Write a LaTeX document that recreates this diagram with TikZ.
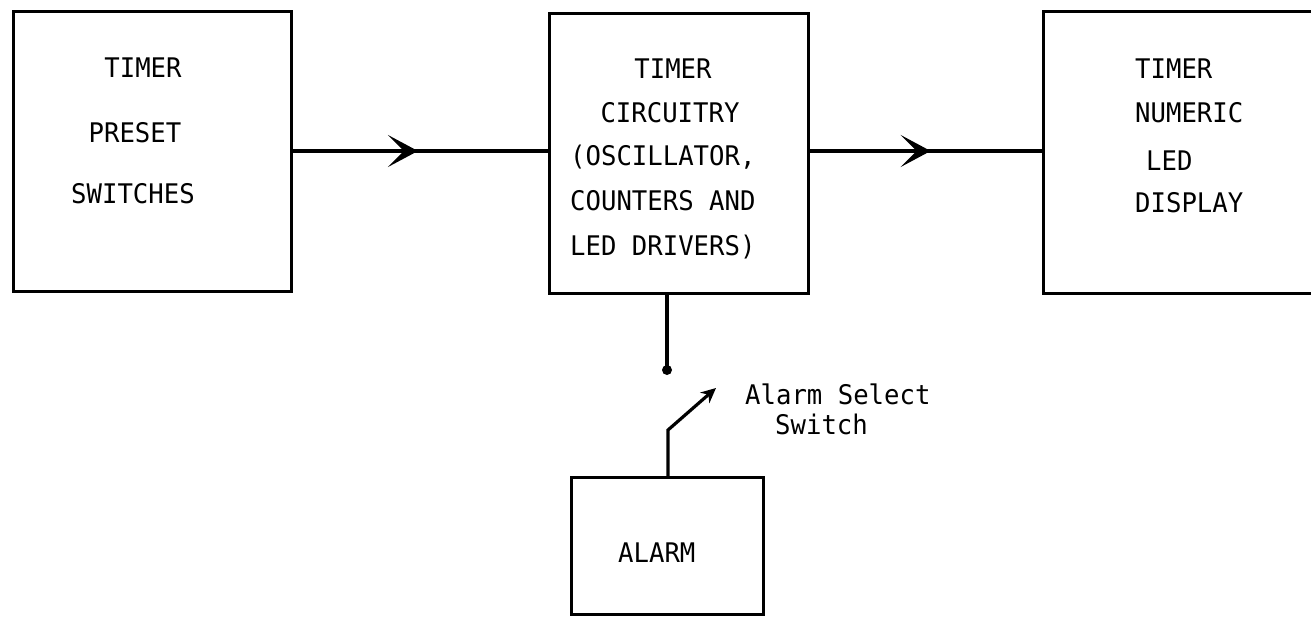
\documentclass[tikz,border=0pt]{standalone}
\usepackage{fontspec}
\newfontfamily\tw[FakeStretch=0.95]{DejaVu Sans Mono}
\usetikzlibrary{arrows.meta,decorations.markings}
\begin{document}
\begin{tikzpicture}[x=1pt,y=-1pt,
  blk/.style={draw,line width=3pt,rectangle,inner sep=0pt,anchor=north west},
  lbl/.style={font=\tw\fontsize{27}{30}\selectfont,inner sep=0pt},
  wire/.style={line width=3.2pt},
  chev/.style={decoration={markings,mark=at position #1 with {\arrow{Stealth[length=30pt,width=32pt,inset=16pt]}}},postaction={decorate}}
]
\useasboundingbox (0,0) rectangle (1311,616);
\clip (0,0) rectangle (1311,616);
% boxes
\node[blk,minimum width=278pt,minimum height=280pt] (pre) at (12,10) {};
\node[blk,minimum width=259pt,minimum height=280pt] (cir) at (548,12) {};
\node[blk,minimum width=300pt,minimum height=282pt] (dis) at (1042,10) {};
\node[blk,minimum width=192pt,minimum height=137pt] (alm) at (570,476) {};
% box 1 text
\node[lbl,anchor=base] (p1) at (143,77) {TIMER};
\node[lbl,anchor=base] (p2) at (135,142) {PRESET};
\node[lbl,anchor=base] (p3) at (133,203) {SWITCHES};
% box 2 text
\node[lbl,anchor=base] (c1) at (673,78) {TIMER};
\node[lbl,anchor=base] (c2) at (670,122) {CIRCUITRY};
\node[lbl,anchor=base west] (c3) at (570,165) {(OSCILLATOR,};
\node[lbl,anchor=base west] (c4) at (570,210) {COUNTERS AND};
\node[lbl,anchor=base west] (c5) at (570,255) {LED DRIVERS)};
% box 3 text
\node[lbl,anchor=base west] (d1) at (1135,78) {TIMER};
\node[lbl,anchor=base west] (d2) at (1135,122) {NUMERIC};
\node[lbl,anchor=base west] (d3) at (1146,170) {LED};
\node[lbl,anchor=base west] (d4) at (1135,212) {DISPLAY};
% alarm text
\node[lbl,anchor=base west] (a1) at (618,562) {ALARM};
\node[lbl,anchor=base west] (s1) at (745,404) {Alarm Select};
\node[lbl,anchor=base west] (s2) at (775,434) {Switch};
% connectors
\draw[wire,chev=0.49] (pre.east |- 0,151) -- (cir.west |- 0,151);
\draw[wire,chev=0.52] (cir.east |- 0,151) -- (dis.west |- 0,151);
\coordinate (sw1) at (667,370);
\coordinate (sw2) at (668,430);
\coordinate (sw3) at (716,388);
\draw[wire] (cir.south -| sw1) -- (sw1);
\fill (sw1) circle (5pt);
\draw[wire,-{Stealth[length=15pt,width=14pt,inset=5pt]}] (alm.north -| sw2) -- (sw2) -- (sw3);
\end{tikzpicture}
\end{document}
